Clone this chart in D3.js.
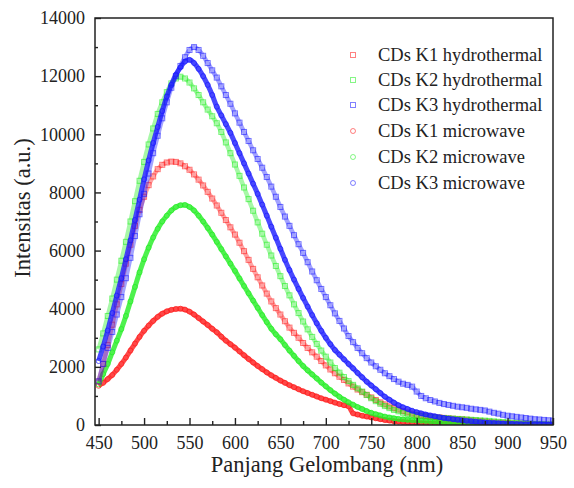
<!DOCTYPE html>
<html>
<head>
<meta charset="utf-8">
<script src="https://cdn.jsdelivr.net/npm/d3@7"></script>
<style>
html,body{margin:0;padding:0;background:#fff;}
svg{display:block;}
text{font-family:"Liberation Serif","Tinos","Times New Roman","Times","Nimbus Roman","DejaVu Serif",serif;fill:#222;}
</style>
</head>
<body>
<svg id="chart" width="574" height="488"></svg>
<script>
// Wavelength grid (nm) used by all series
const wavelengths = d3.range(450, 951, 5);

// Series values (a.u.) at every 5 nm
const k1Hydro = [1500,2100,2750,3450,4150,4850,5550,6200,6850,7400,
  7850,8250,8550,8800,8950,9030,9060,9050,9000,8900,
  8780,8620,8440,8240,8020,7790,7550,7300,7050,6800,
  6550,6270,5980,5680,5370,5080,4800,4520,4250,4020,
  3800,3570,3350,3170,3000,2820,2650,2500,2350,2200,
  2050,1910,1780,1660,1550,1430,1320,1220,1130,1040,
  950,860,780,710,640,580,530,480,430,390,
  350,330,310,290,275,260,245,230,215,205,
  195,180,165,150,135,120,105,95,85,75,
  65,58,50,44,38,32,27,22,18,14,10];
const k2Hydro = [2600,3150,3750,4350,5000,5650,6300,7000,7700,8400,
  9050,9650,10200,10700,11100,11450,11750,11920,11980,11920,
  11780,11580,11350,11100,10850,10620,10380,10080,9720,9350,
  8960,8570,8170,7770,7370,6970,6580,6200,5830,5470,
  5120,4780,4460,4150,3850,3560,3290,3030,2790,2560,
  2350,2150,1960,1800,1650,1510,1380,1260,1150,1030,
  920,820,730,650,580,520,470,420,380,350,
  330,310,290,270,260,250,240,230,220,210,
  200,190,180,170,160,150,140,125,110,100,
  90,80,70,60,50,45,40,35,30,25,20];
const k3Hydro = [1500,2100,2650,3200,3800,4400,5050,5750,6500,7250,
  7950,8650,9350,9950,10550,11100,11600,12000,12350,12650,
  12900,13000,12900,12700,12450,12200,11950,11650,11350,11050,
  10720,10400,10080,9770,9450,9150,8850,8530,8200,7850,
  7500,7170,6850,6530,6220,5920,5600,5280,4980,4680,
  4400,4120,3840,3580,3320,3060,2850,2650,2470,2300,
  2150,2020,1900,1780,1680,1580,1490,1420,1380,1320,
  1150,1000,920,860,810,760,720,690,660,630,
  610,590,560,540,520,500,460,420,390,350,
  320,300,280,260,240,220,200,190,175,165,150];
const k1Micro = [1350,1450,1580,1720,1900,2100,2320,2560,2800,3030,
  3240,3420,3580,3720,3830,3910,3960,3990,4000,3970,
  3900,3800,3680,3560,3440,3310,3190,3040,2900,2780,
  2660,2530,2400,2270,2150,2030,1920,1810,1710,1620,
  1530,1450,1370,1300,1230,1160,1100,1040,980,920,
  870,820,770,720,680,640,400,360,320,290,
  260,230,200,170,150,130,115,100,90,80,
  70,62,55,50,45,40,35,30,26,22,
  18,15,12,10,8,7,6,5,4,4,
  3,3,3,2,2,2,2,2,2,2,2];
const k2Micro = [1400,1750,2100,2500,2900,3300,3750,4250,4750,5250,
  5700,6100,6450,6750,7000,7200,7380,7500,7560,7570,
  7500,7380,7200,7000,6780,6550,6300,6050,5800,5550,
  5300,5040,4780,4530,4280,4030,3780,3540,3310,3120,
  2950,2750,2560,2380,2200,2030,1880,1740,1600,1460,
  1330,1200,1080,970,870,780,700,620,550,480,
  420,370,330,290,260,230,210,195,180,170,
  160,150,140,130,120,110,100,92,85,78,
  72,66,60,55,50,45,40,36,32,28,
  25,22,19,16,14,12,10,8,7,6,5];
const k3Micro = [2200,2700,3250,3850,4450,5050,5700,6350,7050,7750,
  8450,9100,9700,10250,10800,11300,11700,12050,12300,12500,
  12560,12450,12250,12000,11700,11350,10950,10650,10350,10050,
  9700,9350,9000,8650,8300,7950,7580,7200,6820,6440,
  6060,5680,5330,5000,4680,4370,4070,3780,3500,3240,
  3000,2780,2580,2420,2260,2100,1950,1790,1640,1490,
  1360,1230,1100,975,870,770,680,610,550,490,
  440,400,360,330,300,270,240,220,200,180,
  160,140,130,115,100,90,80,70,60,50,
  45,40,35,30,25,20,18,15,12,10,8];

const seriesNames = ["CDs K1 hydrothermal","CDs K2 hydrothermal","CDs K3 hydrothermal",
                     "CDs K1 microwave","CDs K2 microwave","CDs K3 microwave"];
const seriesValues = [k1Hydro, k2Hydro, k3Hydro, k1Micro, k2Micro, k3Micro];
const seriesColors = ["#ff1a1a","#22ee22","#1a1aff","#ff1a1a","#22ee22","#1a1aff"];
const seriesShapes = ["square","square","square","circle","circle","circle"];

const xTicks = [450,500,550,600,650,700,750,800,850,900,950];
const yTicks = [0,2000,4000,6000,8000,10000,12000,14000];

const FONT = "'Liberation Serif','Tinos','Times New Roman','Times','Nimbus Roman','DejaVu Serif',serif";

const svg = d3.select("#chart");
const L = 95, R = 553, T = 18, B = 425;
const x = d3.scaleLinear().domain([446, 950]).range([L, R]);
const y = d3.scaleLinear().domain([0, 14000]).range([B, T]);

svg.append("defs").append("clipPath").attr("id","clip")
  .append("rect").attr("x",L).attr("y",T).attr("width",R-L).attr("height",B-T);

const plot = svg.append("g").attr("clip-path","url(#clip)");

const drawOrder = [3,4,0,1,5,2];
drawOrder.forEach(i => {
  const vals = seriesValues[i];
  const pts = wavelengths.map((w,j) => [w, vals[j]]);
  const col = seriesColors[i];
  const hydro = seriesShapes[i] === "square";
  const line = d3.line().x(d => x(d[0])).y(d => y(d[1])).curve(d3.curveMonotoneX);
  plot.append("path").datum(pts).attr("d", line)
    .attr("fill","none").attr("stroke", col)
    .attr("stroke-width", hydro ? 4.5 : 5)
    .attr("stroke-opacity", hydro ? 0.4 : 0.8);
  const g = plot.append("g");
  if (hydro) {
    g.selectAll("rect").data(pts).join("rect")
      .attr("x", d => x(d[0]) - 2.5).attr("y", d => y(d[1]) - 2.5)
      .attr("width",5).attr("height",5)
      .attr("fill","none").attr("stroke",col).attr("stroke-width",1).attr("stroke-opacity",0.6);
  } else {
    g.selectAll("circle").data(pts).join("circle")
      .attr("cx", d => x(d[0])).attr("cy", d => y(d[1])).attr("r",2.5)
      .attr("fill","none").attr("stroke",col).attr("stroke-width",1).attr("stroke-opacity",0.7);
  }
});

// Axes
const fontSize = "18px";
const yAxis = d3.axisLeft(y).tickValues(yTicks).tickSize(-6).tickPadding(10).tickFormat(d3.format("d"));
const yMinor = d3.axisLeft(y).tickValues(d3.range(1000,14000,2000)).tickSize(-3).tickFormat("");
const xAxis = d3.axisBottom(x).tickValues(xTicks).tickSize(-7).tickPadding(11).tickFormat(d3.format("d"));
const xMinor = d3.axisBottom(x).tickValues(d3.range(475,950,50)).tickSize(-4).tickFormat("");

function style(g){
  g.attr("font-family", FONT);
  g.select(".domain").remove();
  g.selectAll("line").attr("stroke","#222").attr("stroke-width",1.4);
  g.selectAll("text").attr("font-size",fontSize).attr("fill","#2a2a2a").style("font-family", FONT);
}
svg.append("g").attr("transform",`translate(${L},0)`).call(yAxis).call(style);
svg.append("g").attr("transform",`translate(${L},0)`).call(yMinor).call(style);
svg.append("g").attr("transform",`translate(0,${B})`).call(xAxis).call(style);
svg.append("g").attr("transform",`translate(0,${B})`).call(xMinor).call(style);

// Frame
svg.append("rect").attr("x",L).attr("y",T).attr("width",R-L).attr("height",B-T)
  .attr("fill","none").attr("stroke","#222").attr("stroke-width",1.5);

// Axis titles
svg.append("text").attr("x",327).attr("y",472).attr("text-anchor","middle")
  .style("font-family", FONT).attr("font-size","22.5px").text("Panjang Gelombang (nm)");
svg.append("text").attr("transform","translate(30,208) rotate(-90)").attr("text-anchor","middle")
  .style("font-family", FONT).attr("font-size","22.5px").text("Intensitas (a.u.)");

// Legend
const legend = svg.append("g");
const legRows = [55,80,105,131,157,183];
seriesNames.forEach((name,i) => {
  const cy = legRows[i];
  if (seriesShapes[i] === "square") {
    legend.append("rect").attr("x",350.5).attr("y",cy-2.5).attr("width",5).attr("height",5)
      .attr("fill","none").attr("stroke",seriesColors[i]).attr("stroke-opacity",0.55).attr("stroke-width",1);
  } else {
    legend.append("circle").attr("cx",353).attr("cy",cy).attr("r",2.5)
      .attr("fill","none").attr("stroke",seriesColors[i]).attr("stroke-opacity",0.55).attr("stroke-width",1);
  }
  legend.append("text").attr("x",378).attr("y",cy).attr("dy","0.35em")
    .style("font-family", FONT).attr("font-size","18.5px").text(name);
});
</script>
</body>
</html>
